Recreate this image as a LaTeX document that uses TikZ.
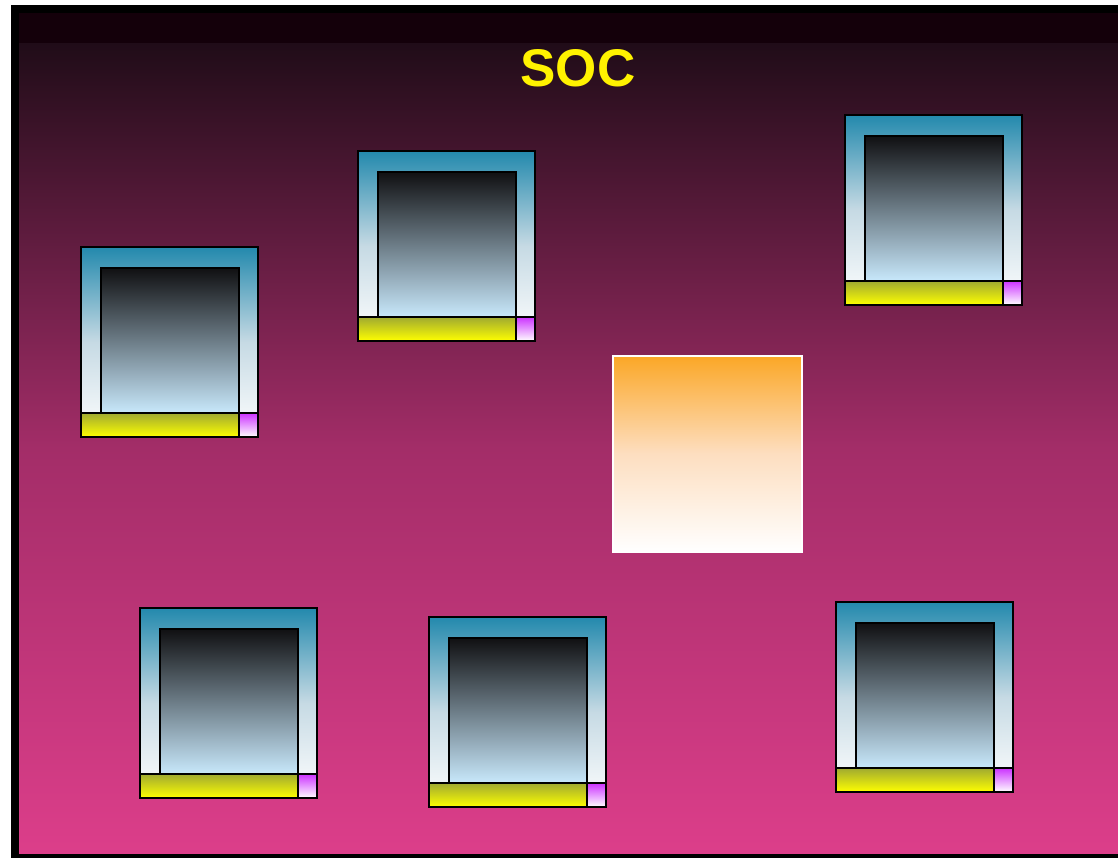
\documentclass[tikz,border=0pt]{standalone}
\usepackage{fontspec}
\setmainfont{Liberation Sans}

\definecolor{bgTop}{RGB}{32,12,24}
\definecolor{bgMid}{RGB}{163,45,104}
\definecolor{bgBottom}{RGB}{220,62,138}
\definecolor{bgStrip}{RGB}{20,0,10}
\definecolor{frameTeal}{RGB}{35,137,173}
\definecolor{frameMid}{RGB}{198,218,228}
\definecolor{screenTop}{RGB}{16,16,18}
\definecolor{screenBottom}{RGB}{200,232,251}
\definecolor{barOlive}{RGB}{160,170,48}
\definecolor{tagViolet}{RGB}{204,51,255}
\definecolor{ctrlOrange}{RGB}{251,167,38}
\definecolor{ctrlMid}{RGB}{253,222,192}

\tikzset{
  part/.style={draw=black, line width=1.8pt, inner sep=0pt, outer sep=0pt,
    anchor=north west},
  frame/.style={part, minimum width=177pt, minimum height=190pt,
    top color=frameTeal, bottom color=white, middle color=frameMid},
  screen/.style={part, minimum width=138pt, minimum height=145pt,
    top color=screenTop, bottom color=screenBottom},
  bar/.style={part, minimum width=158pt, minimum height=24pt,
    top color=barOlive, bottom color=yellow},
  tag/.style={part, minimum width=19pt, minimum height=24pt,
    top color=tagViolet, bottom color=white},
  % one core block, origin at its top left corner
  pics/ipcore/.style={code={
    \node[frame] (-frame) at (0,0) {};
    \node[screen] (-screen) at (20,21) {};
    \node[bar] (-bar) at (0,166) {};
    \node[tag] (-tag) at (158,166) {};
  }}
}

\begin{document}
\begin{tikzpicture}[x=1pt,y=-1pt]
  \useasboundingbox (0,0) rectangle (1118,858);
  \fill[white] (0,0) rectangle (1118,858);
  \fill[black] (11,5) rectangle (1118,858);
  \shade[top color=bgTop, bottom color=bgBottom, middle color=bgMid] (19,43) rectangle (1118,853);
  \fill[bgStrip] (19,13) rectangle (1118,43);

  \node[text=yellow, font=\bfseries\fontsize{53}{56}\selectfont] (title) at (578,68) {SOC};

  \pic (core1) at (81,247) {ipcore};
  \pic (core2) at (358,151) {ipcore};
  \pic (core3) at (845,115) {ipcore};
  \pic (core4) at (140,608) {ipcore};
  \pic (core5) at (429,617) {ipcore};
  \pic (core6) at (836,602) {ipcore};

  \node[draw=white, line width=1.5pt, inner sep=0pt, anchor=north west,
    minimum width=189pt, minimum height=196pt,
    top color=ctrlOrange, bottom color=white, middle color=ctrlMid] (ctrl) at (612,355) {};
\end{tikzpicture}
\end{document}
